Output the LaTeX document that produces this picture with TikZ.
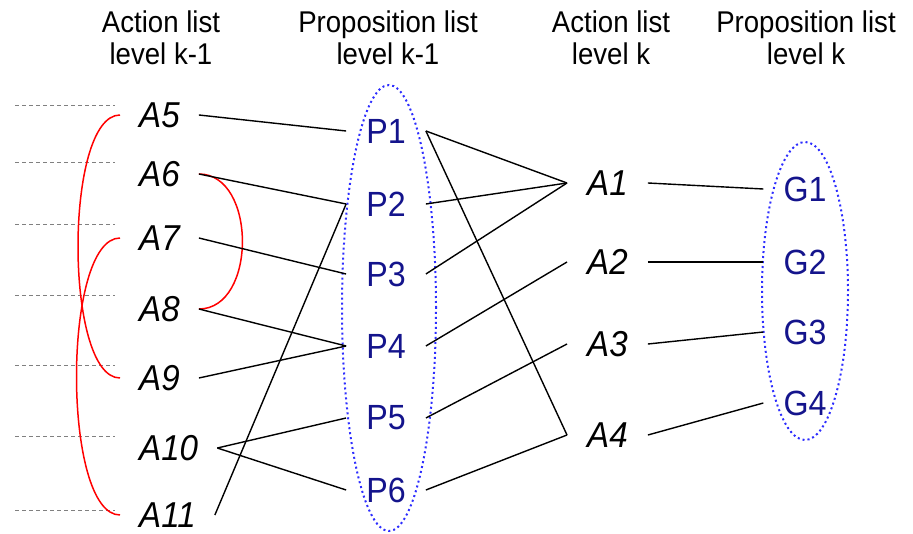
\documentclass[tikz,border=0pt]{standalone}
\usepackage{fontspec}
\setmainfont{Liberation Sans}[FakeStretch=0.92]
\usetikzlibrary{shapes.geometric}
\definecolor{navy}{RGB}{20,20,140}
\definecolor{dotblue}{RGB}{45,45,255}
\begin{document}
\begin{tikzpicture}[x=1pt,y=-1pt,
  hdr/.style={align=center, inner sep=0pt, anchor=north, font=\fontsize{30}{32}\selectfont},
  actL/.style={anchor=west, inner xsep=19pt, inner ysep=0pt, font=\fontsize{36}{40}\selectfont\itshape},
  actR/.style={anchor=west, inner xsep=20pt, inner ysep=0pt, font=\fontsize{36}{40}\selectfont\itshape},
  prop/.style={text=navy, inner xsep=20pt, inner ysep=0pt, font=\fontsize{35}{38}\selectfont},
  plist/.style={draw=dotblue, ellipse, line width=2pt, dash pattern=on 2pt off 3pt, inner sep=0pt},
  link/.style={line width=1.4pt, black},
  redarc/.style={red, line width=1.5pt},
  guide/.style={gray, line width=1pt, dash pattern=on 4pt off 3pt}]
\useasboundingbox (0,0) rectangle (913,534);

% headers
\node[hdr] (h1) at (161,11) {Action list\\level k-1};
\node[hdr] (h2) at (388,11) {Proposition list\\level k-1};
\node[hdr] (h3) at (611,11) {Action list\\level k};
\node[hdr] (h4) at (806,11) {Proposition list\\level k};

% proposition list ellipses
\node[plist, minimum width=94pt, minimum height=446pt] (E1) at (389,308) {};
\node[plist, minimum width=86pt, minimum height=298pt] (E2) at (805,291) {};

% guide lines
\foreach \yy in {106,163,225,296,366,436,510}
  \draw[guide] (15,\yy) -- (115,\yy);

% action list level k-1
\node[actL] (A5)  at (120,115) {A5};
\node[actL] (A6)  at (120,174) {A6};
\node[actL] (A7)  at (120,238) {A7};
\node[actL] (A8)  at (120,309) {A8};
\node[actL] (A9)  at (120,378) {A9};
\node[actL] (A10) at (120,448) {A10};
\node[actL] (A11) at (120,515) {A11};

% proposition list level k-1
\node[prop] (P1) at (386,131) {P1};
\node[prop] (P2) at (386,204) {P2};
\node[prop] (P3) at (386,274) {P3};
\node[prop] (P4) at (386,346) {P4};
\node[prop] (P5) at (386,418) {P5};
\node[prop] (P6) at (386,490) {P6};

% action list level k
\node[actR] (A1) at (567,183) {A1};
\node[actR] (A2) at (567,262) {A2};
\node[actR] (A3) at (567,344) {A3};
\node[actR] (A4) at (567,435) {A4};

% proposition list level k
\node[prop] (G1) at (805,189) {G1};
\node[prop] (G2) at (805,262) {G2};
\node[prop] (G3) at (805,332) {G3};
\node[prop] (G4) at (805,403) {G4};

% mutex arcs
\draw[redarc] (A5.west) .. controls +(-56,0) and +(-56,0) .. (A9.west);
\draw[redarc] (A7.west) .. controls +(-58,0) and +(-58,0) .. (A11.west);
\draw[redarc] (A6.east) .. controls +(58,0) and +(58,0) .. (A8.east);

% connectors level k-1
\draw[link] (A5.east) -- (P1.west);
\draw[link] (A6.east) -- (P2.west);
\draw[link] (A7.east) -- (P3.west);
\draw[link] (A8.east) -- (P4.west);
\draw[link] (A9.east) -- (P4.west);
\draw[link] (A10.east) -- (P5.west);
\draw[link] (A10.east) -- (P6.west);
\draw[link] (A11.east) -- (P2.west);

% preconditions of level k actions
\draw[link] (P1.east) -- (A1.west);
\draw[link] (P2.east) -- (A1.west);
\draw[link] (P3.east) -- (A1.west);
\draw[link] (P1.east) -- (A4.west);
\draw[link] (P4.east) -- (A2.west);
\draw[link] (P5.east) -- (A3.west);
\draw[link] (P6.east) -- (A4.west);

% effects
\draw[link] (A1.east) -- (G1.west);
\draw[link] (A2.east) -- (G2.west);
\draw[link] (A3.east) -- (G3.west);
\draw[link] (A4.east) -- (G4.west);
\end{tikzpicture}
\end{document}
